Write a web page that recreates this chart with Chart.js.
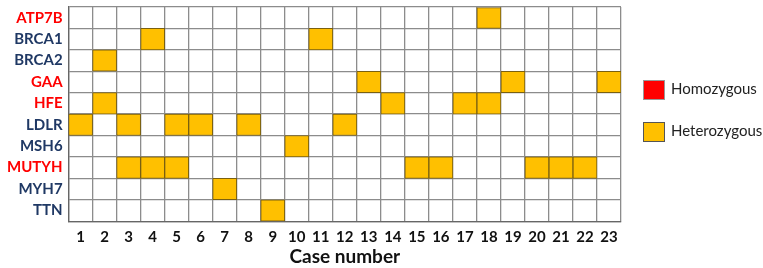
<!DOCTYPE html>
<html>
<head>
<meta charset="utf-8">
<script src="https://cdn.jsdelivr.net/npm/chart.js@4.4.1/dist/chart.umd.min.js"></script>
<style>
  html, body { margin: 0; padding: 0; background: #fff; }
  #wrap { position: relative; width: 763px; height: 268px; }
  .key { position: absolute; left: 643px; font: 15px Lato, sans-serif; color: #222; }
  .key span { display: inline-block; width: 22px; height: 20px; vertical-align: middle; margin-right: 6px; box-sizing: border-box; }
</style>
</head>
<body>
<div id="wrap">
  <canvas id="grid"></canvas>
  <div class="key" style="top:79px"><span style="background:#ff0000;border:1px solid #999"></span>Homozygous</div>
  <div class="key" style="top:121px"><span style="background:#ffc000;border:1px solid #555"></span>Heterozygous</div>
</div>
<script>
// genes top to bottom, and which cases carry a heterozygous variant
const genes = ['ATP7B', 'BRCA1', 'BRCA2', 'GAA', 'HFE', 'LDLR', 'MSH6', 'MUTYH', 'MYH7', 'TTN'];
const geneColors = ['#ff0000', '#1f3864', '#1f3864', '#ff0000', '#ff0000', '#1f3864', '#1f3864', '#ff0000', '#1f3864', '#1f3864'];
const cases = ['1', '2', '3', '4', '5', '6', '7', '8', '9', '10', '11', '12', '13', '14', '15', '16', '17', '18', '19', '20', '21', '22', '23'];
const heteroCases = [
    [18],
    [4, 11],
    [2],
    [13, 19, 23],
    [2, 14, 17, 18],
    [1, 3, 5, 6, 8, 12],
    [10],
    [3, 4, 5, 15, 16, 20, 21, 22],
    [7],
    [9]
];
const homoCases = [[], [], [], [], [], [], [], [], [], []];

const HETERO = '#ffc000';
const HOMO = '#ff0000';

// one floating-bar dataset per gene and zygosity
const datasets = [];
genes.forEach((g, i) => {
    [[heteroCases[i], HETERO], [homoCases[i], HOMO]].forEach(([list, color]) => {
        if (!list.length) return;
        datasets.push({
            label: g,
            data: cases.map(c => list.includes(+c) ? [i, i + 1] : null),
            backgroundColor: color,
            borderColor: '#7a6010',
            borderWidth: 1,
            borderSkipped: false,
            grouped: false,
            barPercentage: 1,
            categoryPercentage: 1,
            yAxisID: 'y'
        });
    });
});

const ctx = document.getElementById('grid').getContext('2d');
new Chart(ctx, {
    type: 'bar',
    data: { labels: cases, datasets: datasets },
    options: {
        responsive: true,
        maintainAspectRatio: false,
        animation: false,
        layout: { padding: { left: 1, top: 7, right: 142, bottom: 0 } },
        plugins: {
            tooltip: { enabled: false },
            legend: { display: false }
        },
        scales: {
            x: {
                grid: { color: '#8c8c8c', lineWidth: 1.3, drawTicks: false },
                border: { color: '#666', width: 1.3 },
                ticks: { color: '#111', padding: 7, font: { family: 'Lato', size: 15, weight: 'bold' } },
                title: { display: true, text: 'Case number', color: '#111', padding: { top: -8, bottom: 0 },
                         font: { family: 'Lato', size: 19, weight: 'bold' } }
            },
            y: {
                min: 0,
                max: 10,
                reverse: true,
                ticks: { display: false, stepSize: 1 },
                grid: { color: '#8c8c8c', lineWidth: 1.3, drawTicks: false },
                border: { color: '#666', width: 1.3 }
            },
            genes: {
                type: 'category',
                position: 'left',
                labels: genes,
                offset: true,
                grid: { display: false, drawTicks: false },
                border: { display: false },
                afterFit: s => { s.paddingTop = 0; s.paddingBottom = 0; },
                ticks: {
                    padding: 6,
                    autoSkip: false,
                    color: c => geneColors[c.index],
                    font: { family: 'Lato', size: 15, weight: 'bold' }
                }
            }
        }
    }
});
</script>
</body>
</html>
